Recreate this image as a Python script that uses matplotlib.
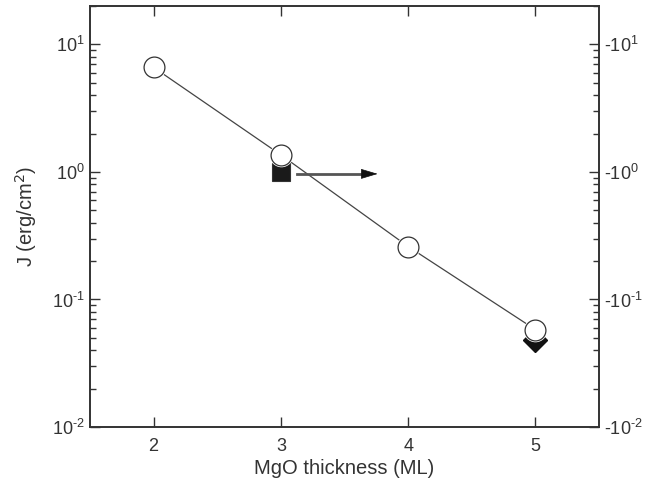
import math
import matplotlib
matplotlib.use("Agg")
import matplotlib.pyplot as plt
from matplotlib.ticker import LogLocator, FuncFormatter, NullFormatter

plt.rcParams['font.family'] = ['Liberation Sans', 'DejaVu Sans']

# data
thickness = [2, 3, 4, 5]
j_open = [6.6, 1.36, 0.26, 0.058]
sq_x = [3]
sq_y = [1.0]
dia_x = [5]
dia_y = [0.048]
arrow_x = [3.13, 3.76]
arrow_y = [0.965, 0.965]

HY = '\u2010'  # plain hyphen, mathtext would turn '-' into a minus


def left_fmt(v, p):
    e = round(math.log10(v))
    s = str(e).replace('-', HY)
    return '$\\mathdefault{10^{%s}}$' % s


def right_fmt(v, p):
    return HY + left_fmt(v, p)


fig = plt.figure(figsize=(6.54, 4.87), dpi=100)
ax = fig.add_axes([0.1376, 0.1232, 0.7784, 0.8645])

ax.plot(thickness, j_open, '-', color='#444444', lw=0.9, zorder=1)
ax.plot(sq_x, sq_y, 's', ms=13.5, mfc='#1a1a1a', mec='#333333', mew=0.8, zorder=2)
ax.plot(dia_x, dia_y, 'D', ms=12.5, color='#111111', zorder=2)
# white halo so the line stops short of the circles
ax.plot(thickness, j_open, 'o', ms=17, mfc='white', mec='none', zorder=3)
ax.plot(thickness, j_open, 'o', ms=15, mfc='white', mec='#333333', mew=0.9, zorder=4)

ax.plot([arrow_x[0], arrow_x[1] - 0.08], arrow_y, '-', color='#555555', lw=2.0, zorder=5)
ax.annotate('', xy=(arrow_x[1], arrow_y[1]), xytext=(arrow_x[1] - 0.12, arrow_y[1]),
            arrowprops=dict(arrowstyle='-|>,head_length=0.6,head_width=0.18',
                            color='#111111', lw=0.5,
                            mutation_scale=18, shrinkA=0, shrinkB=0), zorder=6)

ax.set_yscale('log')
ax.set_xlim(1.5, 5.5)
ax.set_ylim(0.01, 20)
ax.set_xticks([2, 3, 4, 5])
ax.yaxis.set_major_locator(LogLocator(base=10, numticks=10))
ax.yaxis.set_minor_locator(LogLocator(base=10, subs=range(2, 10), numticks=20))
ax.yaxis.set_major_formatter(FuncFormatter(left_fmt))
ax.yaxis.set_minor_formatter(NullFormatter())

ax.set_xlabel('MgO thickness (ML)', fontsize=14.5, color='#333333', labelpad=3)
ax.set_ylabel('J (erg/cm$^2$)', fontsize=14.5, color='#333333', labelpad=9)

ax2 = ax.twinx()
ax2.set_yscale('log')
ax2.set_ylim(ax.get_ylim())
ax2.yaxis.set_major_locator(LogLocator(base=10, numticks=10))
ax2.yaxis.set_minor_locator(LogLocator(base=10, subs=range(2, 10), numticks=20))
ax2.yaxis.set_minor_formatter(NullFormatter())
ax2.yaxis.set_major_formatter(FuncFormatter(right_fmt))

for a in (ax, ax2):
    for s in a.spines.values():
        s.set_color('#333333')
        s.set_linewidth(1.2)
    a.tick_params(which='both', direction='in', colors='#333333', labelsize=13,
                  labelcolor='#333333')
    a.tick_params(which='major', length=7, width=1.0)
    a.tick_params(which='minor', length=4, width=1.0)
ax.tick_params(axis='x', top=True, pad=8)
ax.tick_params(axis='y', right=False, pad=4)

fig.savefig('out.png', dpi=100)
